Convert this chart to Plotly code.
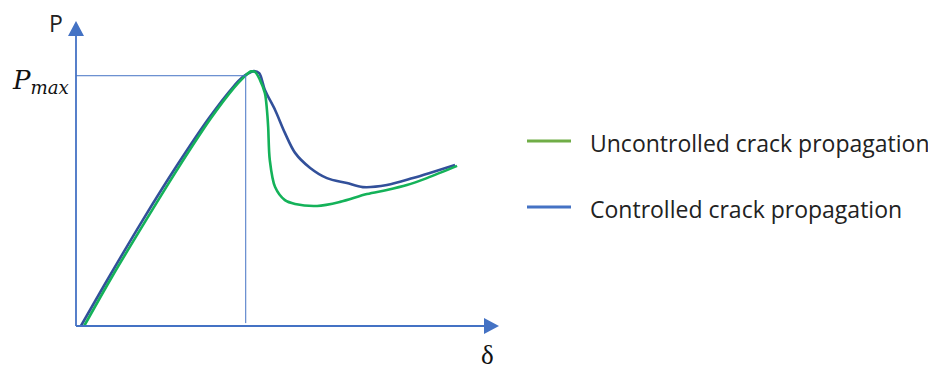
import plotly.graph_objects as go

# ---- data (δ and P in arbitrary units) ----
controlled_delta = [1.2, 8.1, 16.4, 24.5, 32.6, 38.5, 40.9, 42.9, 43.6, 44.9, 46.3, 48.8, 51.2, 53.7,
                    57.4, 61.5, 66.4, 70.3, 76.2, 82.6, 87.5, 92.9]
controlled_load = [0.0, 16.9, 36.6, 54.8, 71.7, 82.4, 85.9, 87.6, 87.9, 87.2, 81.4, 74.5, 66.6, 59.7,
                   54.5, 51.0, 49.3, 47.9, 48.6, 51.0, 53.1, 55.5]

uncontrolled_delta = [2.0, 8.8, 17.2, 25.2, 33.1, 38.7, 40.9, 42.2, 42.9, 43.9, 45.1, 46.3, 46.8, 47.1,
                      47.5, 48.8, 51.2, 53.7, 59.1, 64.7, 71.3, 76.2, 81.1, 86.0, 93.4]
uncontrolled_load = [0.0, 16.9, 36.6, 54.8, 71.7, 82.1, 85.5, 87.2, 87.8, 87.6, 84.8, 80.3, 74.5, 68.6,
                     57.2, 47.9, 43.4, 42.1, 41.4, 42.8, 45.5, 46.9, 48.6, 51.0, 55.2]

p_max = 86.3
delta_at_p_max = 41.6

series_names = ["Uncontrolled crack propagation", "Controlled crack propagation"]
curve_colors = ["#14B259", "#32509A"]
legend_colors = ["#70AD47", "#4472C4"]
axis_color = "#4472C4"

# the page body adds an 8px offset, so the figure is 8px smaller than the window
W, H = 928, 361
ML, MR, MT, MB = 68, 452, 28, 43
PW, PH = W - ML - MR, H - MT - MB


def px(wx):
    """window x pixel -> paper x"""
    return (wx - 8 - ML) / PW


def py(wy):
    """window y pixel -> paper y"""
    return (MT + PH - (wy - 8)) / PH


fig = go.Figure()

fig.add_trace(go.Scatter(x=controlled_delta, y=controlled_load, mode="lines", name=series_names[1],
                         line=dict(color=curve_colors[1], width=2.6, shape="spline", smoothing=0.9),
                         showlegend=False, hoverinfo="skip", cliponaxis=False))
fig.add_trace(go.Scatter(x=uncontrolled_delta, y=uncontrolled_load, mode="lines", name=series_names[0],
                         line=dict(color=curve_colors[0], width=2.6, shape="spline", smoothing=0.9),
                         showlegend=False, hoverinfo="skip", cliponaxis=False))

shapes = []
# Pmax guide lines
shapes.append(dict(type="line", xref="x", yref="y", x0=0, x1=delta_at_p_max, y0=p_max, y1=p_max,
                   line=dict(color=axis_color, width=1)))
shapes.append(dict(type="line", xref="x", yref="y", x0=delta_at_p_max, x1=delta_at_p_max, y0=1.0, y1=p_max,
                   line=dict(color=axis_color, width=1)))
# axes
shapes.append(dict(type="line", xref="paper", yref="paper", x0=0, x1=1, y0=0, y1=0,
                   line=dict(color=axis_color, width=1.8)))
shapes.append(dict(type="line", xref="paper", yref="paper", x0=0, x1=0, y0=0, y1=1,
                   line=dict(color=axis_color, width=1.8)))
# arrow heads
ax_len, ax_half = 15, 8
sx, sy = 1 / PW, 1 / PH
shapes.append(dict(type="path", xref="paper", yref="paper",
                   path=f"M 1,{-ax_half*sy} L {1+ax_len*sx},0 L 1,{ax_half*sy} Z",
                   fillcolor=axis_color, line=dict(width=0)))
shapes.append(dict(type="path", xref="paper", yref="paper",
                   path=f"M {-ax_half*sx},1 L 0,{1+ax_len*sy} L {ax_half*sx},1 Z",
                   fillcolor=axis_color, line=dict(width=0)))

# manual legend
legend_rows = [141, 207]
for i, name in enumerate(series_names):
    shapes.append(dict(type="line", xref="paper", yref="paper", x0=px(527), x1=px(571),
                       y0=py(legend_rows[i]), y1=py(legend_rows[i]),
                       line=dict(color=legend_colors[i], width=3)))

annotations = [
    dict(text="P", xref="paper", yref="paper", x=px(56), y=py(23), xanchor="center", yanchor="middle",
         showarrow=False, font=dict(family="Open Sans", size=23, color="#222222")),
    dict(text="<i>P</i><sub><i>max</i></sub>", xref="paper", yref="paper", x=px(71), y=py(81),
         xanchor="right", yanchor="middle", showarrow=False,
         font=dict(family="DejaVu Serif", size=26, color="#111111")),
    dict(text="δ", xref="paper", yref="paper", x=px(487), y=py(355), xanchor="center", yanchor="middle",
         height=26, showarrow=False, font=dict(family="Liberation Serif", size=27, color="#111111")),
]
for i, name in enumerate(series_names):
    annotations.append(dict(text=name, xref="paper", yref="paper", x=px(588), y=py(legend_rows[i] + 2),
                            xanchor="left", yanchor="middle", showarrow=False,
                            font=dict(family="Open Sans", size=23, color="#222222")))

fig.update_layout(
    width=W, height=H,
    margin=dict(l=ML, r=MR, t=MT, b=MB),
    paper_bgcolor="white", plot_bgcolor="white",
    xaxis=dict(range=[0, 100], visible=False, fixedrange=True),
    yaxis=dict(range=[0, 100], visible=False, fixedrange=True),
    shapes=shapes,
    annotations=annotations,
    showlegend=False,
)

fig.write_html("out.html")
